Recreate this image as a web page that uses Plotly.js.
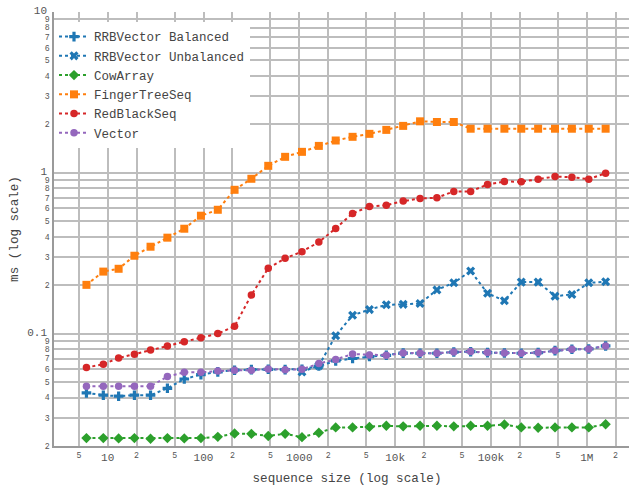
<!DOCTYPE html>
<html>
<head>
<meta charset="utf-8">
<script src="https://cdn.plot.ly/plotly-3.0.1.min.js"></script>
<style>
html, body { margin: 0; padding: 0; overflow: hidden; background: #fff; }
#chart { width: 640px; height: 486px; }
</style>
</head>
<body>
<div id="chart"></div>
<script>
// sequence sizes (x)
const sizes = [6, 9, 13, 19, 28, 42, 63, 94, 141, 211, 316, 474, 711, 1066, 1599, 2398, 3597, 5395, 8092, 12138, 18207, 27310, 40965, 61447, 92170, 138255, 207382, 311073, 466609, 699913, 1049869, 1574803];

// timings in ms
const rrbBalanced = [0.0428, 0.0414, 0.0408, 0.0414, 0.0414, 0.0457, 0.0522, 0.0556, 0.0578, 0.0592, 0.0597, 0.0600, 0.0597, 0.0600, 0.0629, 0.0676, 0.0700, 0.0720, 0.0733, 0.0756, 0.0755, 0.0755, 0.0768, 0.0772, 0.0762, 0.0758, 0.0755, 0.0762, 0.0784, 0.0799, 0.0802, 0.0838];
const rrbUnbalanced = [null, null, null, null, null, null, null, null, null, null, null, null, null, 0.0578, 0.0632, 0.0971, 0.130, 0.141, 0.151, 0.152, 0.154, 0.187, 0.207, 0.245, 0.178, 0.160, 0.209, 0.209, 0.171, 0.175, 0.207, 0.210];
const cowArray = [0.0224, 0.0224, 0.0223, 0.0224, 0.0222, 0.0224, 0.0223, 0.0224, 0.0228, 0.0239, 0.0238, 0.0231, 0.0238, 0.0227, 0.0242, 0.0261, 0.0261, 0.0263, 0.0267, 0.0265, 0.0267, 0.0267, 0.0265, 0.0267, 0.0267, 0.0272, 0.0261, 0.0260, 0.0261, 0.0261, 0.0261, 0.0273];
const fingerTreeSeq = [0.201, 0.243, 0.253, 0.305, 0.347, 0.395, 0.449, 0.541, 0.589, 0.784, 0.918, 1.105, 1.257, 1.350, 1.47, 1.588, 1.674, 1.747, 1.849, 1.958, 2.09, 2.07, 2.07, 1.88, 1.88, 1.88, 1.88, 1.88, 1.88, 1.88, 1.88, 1.88];
const redBlackSeq = [0.0615, 0.0645, 0.0705, 0.0743, 0.0791, 0.0837, 0.0891, 0.0944, 0.100, 0.111, 0.174, 0.255, 0.294, 0.323, 0.371, 0.451, 0.559, 0.617, 0.629, 0.667, 0.692, 0.700, 0.766, 0.766, 0.846, 0.883, 0.879, 0.913, 0.948, 0.939, 0.913, 0.995];
const vectorSeq = [0.0471, 0.0470, 0.0471, 0.0471, 0.0471, 0.0541, 0.0575, 0.0575, 0.0586, 0.0592, 0.0592, 0.0603, 0.0597, 0.0600, 0.0651, 0.0690, 0.0747, 0.0737, 0.0733, 0.0758, 0.0755, 0.0755, 0.0769, 0.0773, 0.0762, 0.0758, 0.0755, 0.0762, 0.0784, 0.0799, 0.0802, 0.0838];

const seriesNames = ['RRBVector Balanced', 'RRBVector Unbalanced', 'CowArray', 'FingerTreeSeq', 'RedBlackSeq', 'Vector'];
const seriesValues = [rrbBalanced, rrbUnbalanced, cowArray, fingerTreeSeq, redBlackSeq, vectorSeq];
const seriesColors = ['#1f77b4', '#1f77b4', '#2ca02c', '#ff7f0e', '#d62728', '#9467bd'];
const seriesSymbols = ['cross', 'x', 'diamond', 'square', 'circle', 'circle'];
const seriesSizes = [8, 8, 8, 8, 7.5, 7.5];

const FONT = '"Liberation Mono", "Cousine", "DejaVu Sans Mono", monospace';

const traces = seriesNames.map((name, i) => ({
  type: 'scatter',
  mode: 'lines+markers',
  name: name,
  x: sizes,
  y: seriesValues[i],
  connectgaps: false,
  line: { color: seriesColors[i], width: 2, dash: 'dot' },
  marker: { color: seriesColors[i], symbol: seriesSymbols[i], size: seriesSizes[i] }
}));

const layout = {
  width: 640,
  height: 486,
  margin: { l: 54, r: 0, t: 12, b: 39.5, pad: 0 },
  paper_bgcolor: '#ffffff',
  plot_bgcolor: '#ffffff',
  font: { family: FONT, size: 11, color: '#555' },
  showlegend: true,
  legend: {
    x: 0, xanchor: 'left', y: 0.977, yanchor: 'top',
    bgcolor: '#ffffff', borderwidth: 0,
    font: { family: FONT, size: 12.5, color: '#444' }
  },
  xaxis: {
    type: 'log',
    range: [0.4395, 6.556],
    dtick: 'D2',
    showgrid: true, gridcolor: '#bdbdbd', gridwidth: 2,
    showline: true, linecolor: '#9a9a9a', linewidth: 2,
    zeroline: false, ticks: '',
    tickfont: { family: FONT, size: 11, color: '#555' },
    title: { text: 'sequence size (log scale)', font: { family: FONT, size: 12.6, color: '#444' } }
  },
  yaxis: {
    type: 'log',
    range: [Math.log10(0.02), 1],
    dtick: 'D1',
    showgrid: true, gridcolor: '#bdbdbd', gridwidth: 2,
    showline: true, linecolor: '#9a9a9a', linewidth: 2,
    zeroline: false, ticks: '',
    tickfont: { family: FONT, size: 11, color: '#555' },
    title: { text: 'ms (log scale)', font: { family: FONT, size: 12.6, color: '#444' } }
  }
};

Plotly.newPlot('chart', traces, layout, { displayModeBar: false, staticPlot: true });
</script>
</body>
</html>
